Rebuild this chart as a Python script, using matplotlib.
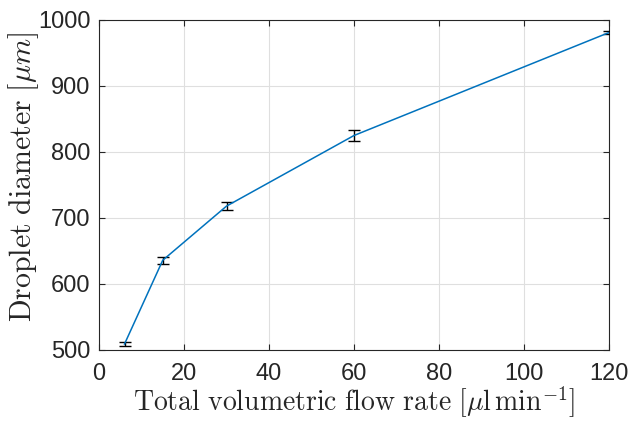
import matplotlib
matplotlib.use("Agg")
import matplotlib.pyplot as plt

flow_rate = [6, 15, 30, 60, 120]
diameter = [509, 636, 718, 825, 981]
diameter_err = [3, 5, 6, 9, 2]

xticks = [0, 20, 40, 60, 80, 100, 120]
yticks = [500, 600, 700, 800, 900, 1000]

plt.rcParams['mathtext.fontset'] = 'cm'
plt.rcParams['font.family'] = ['Liberation Sans', 'DejaVu Sans']

fig = plt.figure(figsize=(6.32, 4.21), dpi=100)
ax = fig.add_axes([99/632, 1 - 350/421, (609-99)/632, (350-20)/421])

ax.errorbar(flow_rate, diameter, yerr=diameter_err, color='#0072BD', lw=1.1,
            ecolor='black', elinewidth=1.0, capsize=4, capthick=1.0, zorder=3)

ax.set_xlim(0, 120)
ax.set_ylim(500, 1000)
ax.set_xticks(xticks)
ax.set_yticks(yticks)
ax.grid(True, color='#DFDFDF', lw=0.8)
ax.set_axisbelow(True)
for s in ax.spines.values():
    s.set_color('#262626')
    s.set_linewidth(0.8)
ax.tick_params(direction='in', length=4, width=0.8, colors='#262626',
               labelsize=17, top=True, right=True)
ax.tick_params(axis='x', pad=9)
ax.tick_params(axis='y', pad=6)
ax.set_xlabel(r'$\mathrm{Total\ volumetric\ flow\ rate}\ [\mu\mathrm{l}\,\mathrm{min}^{-1}]$',
              fontsize=20, color='#262626', labelpad=0)
ax.set_ylabel(r'$\mathrm{Droplet\ diameter}\ [\mu m]$', fontsize=21.5, color='#262626')
ax.yaxis.set_label_coords(-0.113, 0.525)

fig.savefig('out.png', dpi=100)
